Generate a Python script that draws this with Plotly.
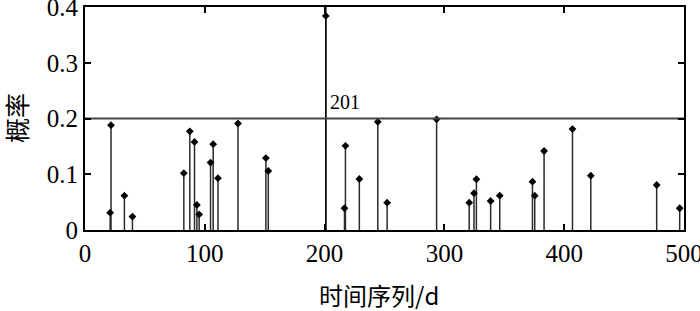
import plotly.graph_objects as go

# stem data (time index, probability)
days = [21.7, 21.0, 32.9, 39.6, 82.5, 87.5, 91.4, 93.4, 95.3, 104.8, 107.0, 111.0,
        127.7, 151.0, 153.0, 201.0, 217.4, 216.6, 229.0, 244.4, 252.2, 293.5,
        320.7, 324.7, 326.7, 338.6, 346.2, 373.5, 375.4, 383.2, 406.9, 422.2,
        477.2, 496.4]
probs = [0.188, 0.031, 0.0615, 0.024, 0.102, 0.177, 0.158, 0.045, 0.028, 0.121, 0.154, 0.093,
         0.191, 0.129, 0.106, 0.384, 0.151, 0.039, 0.0915, 0.194, 0.049, 0.1985,
         0.049, 0.066, 0.091, 0.052, 0.0615, 0.0867, 0.0615, 0.1417, 0.181, 0.0975,
         0.0807, 0.039]
threshold = 0.2
marked_day = 201
marked_label = "201"
x_ticks = [0, 100, 200, 300, 400, 500]
y_ticks = [0, 0.1, 0.2, 0.3, 0.4]
y_tick_text = ["0", "0.1", "0.2", "0.3", "0.4"]

sx, sy = [], []
for d, p in zip(days, probs):
    sx += [d, d, None]
    sy += [0, p, None]

fig = go.Figure()
fig.add_trace(go.Scatter(x=sx, y=sy, mode="lines",
                         line=dict(color="#2a2a2a", width=1.5),
                         hoverinfo="skip", showlegend=False))
fig.add_trace(go.Scatter(x=days, y=probs, mode="markers",
                         marker=dict(symbol="diamond", size=6, color="black"),
                         showlegend=False))
fig.add_trace(go.Scatter(x=[marked_day, marked_day], y=[0, 0.4], mode="lines",
                         line=dict(color="black", width=1.4), showlegend=False))
fig.add_trace(go.Scatter(x=[0, 500], y=[threshold, threshold], mode="lines",
                         line=dict(color="#444", width=1.8), showlegend=False))
fig.add_annotation(x=marked_day + 2, y=threshold + 0.006, text=marked_label,
                   showarrow=False, xanchor="left", yanchor="bottom",
                   font=dict(family="Liberation Serif", size=20, color="black"))
# axis titles
fig.add_annotation(xref="paper", yref="paper", x=0.49, y=-0.29, text="时间序列/d",
                   showarrow=False, xanchor="center", yanchor="middle",
                   font=dict(family="Noto Sans CJK SC", size=24, color="black"))
fig.add_annotation(xref="paper", yref="paper", x=-0.116, y=0.5, text="概率",
                   showarrow=False, xanchor="center", yanchor="middle", textangle=-90,
                   font=dict(family="Noto Sans CJK SC", size=25, color="black"))

axis_common = dict(showgrid=False, zeroline=False, showline=True, linecolor="black",
                   linewidth=2, mirror="ticks", ticks="inside", ticklen=6,
                   tickcolor="black", tickwidth=1.5, automargin=False,
                   ticklabeloverflow="allow",
                   tickfont=dict(family="Liberation Serif", size=25, color="black"))
fig.update_xaxes(range=[0, 500.001], tickvals=x_ticks, **axis_common)
fig.update_yaxes(range=[0, 0.40001], tickvals=y_ticks, ticktext=y_tick_text, **axis_common)
fig.update_layout(width=700, height=311, plot_bgcolor="white", paper_bgcolor="white",
                  margin=dict(l=85, r=16, t=7, b=81))
fig.write_html("out.html", config={"displayModeBar": False},
               post_script="document.body.style.margin='0';document.body.style.overflow='hidden';")
